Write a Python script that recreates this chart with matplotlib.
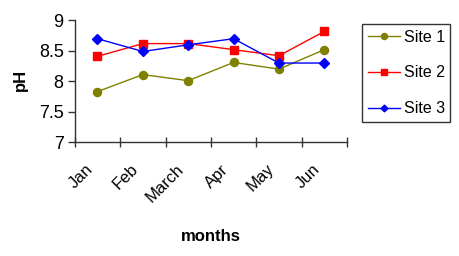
import matplotlib
matplotlib.use("Agg")
import matplotlib.pyplot as plt
from matplotlib.transforms import ScaledTranslation
import numpy as np

months = ["Jan", "Feb", "March", "Apr", "May", "Jun"]
site1 = [7.83, 8.11, 8.01, 8.31, 8.20, 8.52]
site2 = [8.41, 8.62, 8.62, 8.52, 8.42, 8.82]
site3 = [8.70, 8.49, 8.60, 8.70, 8.30, 8.30]
series_names = ["Site 1", "Site 2", "Site 3"]
colors = ["#808000", "#FF0000", "#0000FF"]
markers = ["o", "s", "D"]

plt.rcParams['font.family'] = ['Liberation Sans', 'DejaVu Sans']

fig = plt.figure(figsize=(4.59, 2.56), dpi=100)
ax = fig.add_axes([0.163, 0.445, 0.593, 0.475])

x = np.arange(len(months)) + 0.5
for vals, name, c, m in zip([site1, site2, site3], series_names, colors, markers):
    ms = 4.6 if m == "D" else 5.8
    ax.plot(x, vals, color=c, marker=m, markersize=ms, linewidth=1.0, label=name)

ax.set_xlim(0, len(months))
ax.set_ylim(7, 9)
ax.set_yticks([7, 7.5, 8, 8.5, 9])
ax.set_yticklabels(["7", "7.5", "8", "8.5", "9"], fontsize=13)
ax.set_xticks(np.arange(len(months) + 1))
ax.set_xticklabels([])
ax.set_xticks(x, minor=True)
ax.set_xticklabels(months, minor=True, fontsize=12, rotation=45, ha="right",
                   va="top", rotation_mode="anchor")
ax.tick_params(axis="x", which="minor", length=0, pad=14)
ax.tick_params(axis="x", which="major", direction="inout", length=7, width=1, color="#333333")
ax.tick_params(axis="y", direction="out", length=5, width=1, color="#333333", pad=3)
offset = ScaledTranslation(-9 / 72, 0, fig.dpi_scale_trans)
for lab in ax.get_xticklabels(minor=True):
    lab.set_transform(lab.get_transform() + offset)

for s in ["top", "right"]:
    ax.spines[s].set_visible(False)
for s in ["left", "bottom"]:
    ax.spines[s].set_color("#333333")
    ax.spines[s].set_linewidth(1.0)

ax.set_ylabel("pH", fontsize=12, fontweight="bold")
ax.yaxis.set_label_coords(-0.173, 0.51)
fig.text(0.46, 0.075, "months", fontsize=12, fontweight="bold", ha="center", va="center")

leg = fig.legend(loc="upper left", bbox_to_anchor=(0.789, 0.906), fontsize=11.5,
                 frameon=True, fancybox=False, edgecolor="black", handlelength=2.0,
                 handletextpad=0.25, borderpad=0.35, labelspacing=1.3, borderaxespad=0,
                 markerscale=0.75)
leg.get_frame().set_linewidth(1.0)

fig.savefig("out.png", dpi=100)
